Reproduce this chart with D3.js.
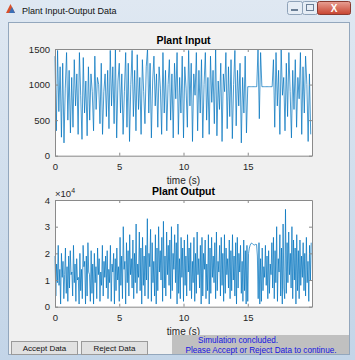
<!DOCTYPE html>
<html>
<head>
<meta charset="utf-8">
<script src="https://cdn.jsdelivr.net/npm/d3@7"></script>
<style>
  body { margin: 0; background: #fff; }
  svg { display: block; font-family: "Liberation Sans", Arial, sans-serif; }
</style>
</head>
<body>
<div id="chart"></div>
<script>
// plant input, sampled every 0.1 s
const inputStep = 0.1;
const inputVals = [
  1400, 350, 1480, 620, 1250, 260, 1300, 180, 950, 1450,
  500, 1200, 320, 1100, 400, 1350, 700, 1150, 300, 1450,
  850, 230, 1380, 600, 1050, 280, 1250, 500, 1150, 900,
  350, 1400, 650, 1100, 1000, 450, 1300, 300, 900, 1150,
  550, 1200, 380, 1480, 700, 1250, 450, 1500, 250, 1050,
  1300, 600, 1150, 300, 900, 1450, 400, 1300, 200, 1000,
  1480, 550, 1200, 350, 1420, 650, 1100, 300, 1350, 900,
  450, 1250, 1500, 600, 1300, 250, 1050, 1400, 700, 1150,
  400, 1250, 950, 300, 1450, 600, 1200, 350, 1000, 1350,
  500, 1150, 250, 1300, 800, 1450, 300, 1100, 600, 1400,
  250, 1250, 950, 400, 1480, 700, 1300, 200, 1150, 850,
  1450, 350, 1200, 600, 1350, 250, 1000, 1450, 500, 1100,
  300, 1400, 750, 1200, 450, 1500, 280, 1050, 650, 1300,
  200, 1150, 900, 1450, 380, 1250, 550, 1350, 240, 1000,
  1480, 420, 1200, 700, 1300, 180, 1100, 600, 1400, 320,
  970, 970, 970, 970, 970, 970, 970, 970, 1500, 520,
  1450, 970, 970, 970, 970, 970, 970, 970, 970, 970,
  1350, 400, 1450, 700, 1200, 300, 1500, 850, 1100, 350,
  1300, 550, 1450, 900, 250, 1200, 650, 1350, 400, 1100,
  800, 1450, 300, 1250, 600, 1400, 1000, 200, 1150, 300
];

// plant output (x 10^4), sampled every 0.0625 s
const outputStep = 0.0625;
const outputVals = [
  1.9,0.4,1.6,0.9,2.3,0.8,1.4,0.1,2.0,1.1,1.7,0.3,1.2,2.2,0.5,1.5,
  0.2,1.9,0.7,2.1,1.2,1.3,0.4,2.3,0.9,1.6,0.2,1.8,1.0,1.1,0.1,2.0,
  0.6,1.4,0.3,2.3,1.5,1.7,0.1,1.9,0.4,2.4,1.3,1.2,0.2,2.1,0.5,1.6,
  0.1,2.0,0.9,1.5,0.3,2.2,1.2,1.8,0.2,1.3,0.8,2.3,0.4,1.7,1.1,1.9,
  0.7,2.1,0.3,1.4,0.9,2.3,0.2,1.6,1.3,2.0,0.1,1.8,0.6,2.2,1.0,1.5,
  0.2,2.6,0.8,1.9,0.3,3.0,1.4,1.7,0.1,2.4,0.9,2.1,0.4,2.7,1.2,1.8,
  0.7,2.5,0.3,2.0,0.9,3.1,0.5,1.6,1.1,2.8,0.6,2.2,0.1,2.6,0.8,1.9,
  0.4,2.3,1.0,3.3,0.3,2.0,1.5,2.9,0.2,2.4,0.9,1.7,0.4,2.7,0.1,2.2,
  0.6,3.0,1.3,2.1,1.0,2.6,0.2,3.2,0.7,1.9,0.4,2.8,1.2,2.3,0.8,2.5,
  0.3,3.0,0.6,2.0,1.4,2.7,0.9,2.4,0.1,3.1,0.5,1.8,0.3,2.6,1.1,2.2,
  0.2,2.5,0.8,1.9,0.4,2.7,1.3,2.2,0.6,2.4,0.3,1.7,0.9,2.6,0.2,2.0,
  0.5,2.8,1.2,1.8,0.7,2.3,0.1,2.6,0.4,2.0,1.4,2.5,0.3,1.6,0.6,2.7,
  0.1,2.2,0.5,2.6,1.1,1.9,0.9,2.4,0.3,2.8,0.6,1.7,1.3,2.3,0.4,2.6,
  0.8,2.0,0.2,2.7,0.5,2.2,1.2,1.8,0.7,2.5,0.3,2.1,0.6,2.7,1.0,1.9,
  0.4,2.4,0.1,2.6,0.7,2.0,1.3,2.3,0.5,1.7,0.2,2.5,0.6,2.1,0.1,2.3,
  0.2,2.0,2.2,2.31,2.37,2.38,2.36,2.33,2.31,2.32,2.34,2.33,1.9,0.3,2.4,0.1,
  1.8,0.2,2.2,0.6,1.5,1.1,2.3,0.8,1.9,0.3,2.1,0.5,1.6,1.2,2.4,0.7,
  2.6,0.3,2.1,0.9,3.0,0.2,1.8,1.3,2.7,0.4,2.2,0.1,3.1,0.7,0.3,3.65,
  0.5,2.4,0.9,2.8,1.2,2.0,0.7,3.0,0.3,2.5,1.0,2.2,0.1,2.7,0.6,2.1,
  0.3,2.5,0.8,1.9,1.1,2.4,0.6,2.0,0.4,2.6,0.9,1.7,0.2,2.3,1.0,2.4
];

const xTicks = [0, 5, 10, 15];
const inputTicks = [0, 500, 1000, 1500];
const outputTicks = [0, 1, 2, 3, 4];

const W = 355, H = 360;
const svg = d3.select('#chart').append('svg').attr('width', W).attr('height', H);

// window frame
const defs = svg.append('defs');
const tg = defs.append('linearGradient').attr('id', 'frame').attr('x1', 0).attr('x2', 0).attr('y1', 0).attr('y2', 1);
tg.append('stop').attr('offset', 0).attr('stop-color', '#dfe8f2');
tg.append('stop').attr('offset', 1).attr('stop-color', '#c3d5e8');
const cg = defs.append('linearGradient').attr('id', 'close').attr('x1', 0).attr('x2', 0).attr('y1', 0).attr('y2', 1);
cg.append('stop').attr('offset', 0).attr('stop-color', '#e8a094');
cg.append('stop').attr('offset', 1).attr('stop-color', '#c7432f');

svg.append('rect').attr('width', W).attr('height', H).attr('fill', 'url(#frame)');
svg.append('rect').attr('x', 8.5).attr('y', 22.5).attr('width', 341).attr('height', 332)
  .attr('fill', '#f0f0f0').attr('stroke', '#93a7bd');

// title bar
svg.append('path').attr('d', 'M6,13 L10.5,4 L15,13 Z').attr('fill', '#d9502a');
svg.append('path').attr('d', 'M9,13 L12,7 L15,13 Z').attr('fill', '#3b6fb6');
svg.append('text').attr('x', 22).attr('y', 14).attr('font-size', 9).attr('fill', '#111')
  .text('Plant Input-Output Data');

const wb = svg.append('g');
wb.append('rect').attr('x', 287.5).attr('y', 1.5).attr('width', 15).attr('height', 13).attr('rx', 2)
  .attr('fill', '#e6edf5').attr('stroke', '#8fa3b9');
wb.append('rect').attr('x', 302.5).attr('y', 1.5).attr('width', 15).attr('height', 13).attr('rx', 2)
  .attr('fill', '#e6edf5').attr('stroke', '#8fa3b9');
wb.append('rect').attr('x', 317.5).attr('y', 1.5).attr('width', 33).attr('height', 13).attr('rx', 2)
  .attr('fill', 'url(#close)').attr('stroke', '#8a3a30');
wb.append('rect').attr('x', 291).attr('y', 9).attr('width', 7).attr('height', 2).attr('fill', '#6b7f96');
wb.append('rect').attr('x', 306.5).attr('y', 4.5).attr('width', 7).attr('height', 6)
  .attr('fill', 'none').attr('stroke', '#6b7f96');
wb.append('text').attr('x', 334).attr('y', 12).attr('text-anchor', 'middle').attr('font-size', 10)
  .attr('font-weight', 'bold').attr('fill', '#fff').text('X');

// plot panels
function drawPanel(o) {
  const x = d3.scaleLinear().domain([0, 20]).range([55, 312]);
  const y = d3.scaleLinear().domain(o.domain).range([o.bottom, o.top]);
  const g = svg.append('g');

  g.append('rect').attr('x', 55).attr('y', o.top).attr('width', 257).attr('height', o.bottom - o.top)
    .attr('fill', '#fff');

  const pts = o.vals.map((v, i) => [i * o.step, v]);
  g.append('path').datum(pts)
    .attr('d', d3.line().x(d => x(d[0])).y(d => y(d[1])))
    .attr('fill', 'none').attr('stroke', '#0072bd').attr('stroke-width', 0.85)
    .attr('stroke-opacity', 0.85);

  const style = s => {
    s.select('.domain').attr('stroke', '#8a8a8a');
    s.selectAll('.tick line').attr('stroke', '#8a8a8a');
    s.selectAll('.tick text').attr('fill', '#262626').attr('font-size', 9.5);
    s.attr('font-family', null);
  };
  const fmt = d3.format('d');

  g.append('g').attr('transform', `translate(0,${o.bottom})`)
    .call(d3.axisBottom(x).tickValues(xTicks).tickFormat(fmt).tickSizeInner(-3).tickSizeOuter(0).tickPadding(7.3))
    .call(style);
  g.append('g').attr('transform', `translate(0,${o.top})`)
    .call(d3.axisTop(x).tickValues(xTicks).tickSizeInner(-3).tickSizeOuter(0).tickFormat(''))
    .call(style);
  g.append('g').attr('transform', 'translate(55,0)')
    .call(d3.axisLeft(y).tickValues(o.ticks).tickFormat(fmt).tickSizeInner(-3).tickSizeOuter(0).tickPadding(5))
    .call(style);
  g.append('g').attr('transform', 'translate(312,0)')
    .call(d3.axisRight(y).tickValues(o.ticks).tickSizeInner(-3).tickSizeOuter(0).tickFormat(''))
    .call(style);

  g.append('text').attr('x', 183.5).attr('y', o.top - 5).attr('text-anchor', 'middle')
    .attr('font-size', 10.5).attr('font-weight', 'bold').attr('fill', '#000').text(o.title);
  g.append('text').attr('x', 183.5).attr('y', o.bottom + 28.5).attr('text-anchor', 'middle')
    .attr('font-size', 10).attr('fill', '#262626').text('time (s)');
  return g;
}

drawPanel({ top: 49, bottom: 155.7, domain: [0, 1500], ticks: inputTicks,
  vals: inputVals, step: inputStep, title: 'Plant Input' });
const out = drawPanel({ top: 200, bottom: 306.7, domain: [0, 4], ticks: outputTicks,
  vals: outputVals, step: outputStep, title: 'Plant Output' });

const ex = out.append('text').attr('x', 55).attr('y', 197).attr('font-size', 9.5).attr('fill', '#262626');
ex.append('tspan').text('\u00d710');
ex.append('tspan').attr('dy', -4).attr('font-size', 7).text('4');

// buttons and status
[['Accept Data', 11.5], ['Reject Data', 81.5]].forEach(([label, bx]) => {
  svg.append('rect').attr('x', bx).attr('y', 341.5).attr('width', 66).attr('height', 13)
    .attr('fill', '#e1e1e1').attr('stroke', '#9a9a9a');
  svg.append('text').attr('x', bx + 33).attr('y', 351).attr('text-anchor', 'middle')
    .attr('font-size', 8).attr('fill', '#111').text(label);
});

svg.append('rect').attr('x', 172).attr('y', 335).attr('width', 177).attr('height', 19).attr('fill', '#c0c0c0');
svg.append('text').attr('x', 238).attr('y', 343).attr('text-anchor', 'middle')
  .attr('font-size', 8.2).attr('fill', '#1515e0').text('Simulation concluded.');
svg.append('text').attr('x', 261).attr('y', 353).attr('text-anchor', 'middle')
  .attr('font-size', 8.2).attr('fill', '#1515e0').text('Please Accept or Reject Data to continue.');
</script>
</body>
</html>
